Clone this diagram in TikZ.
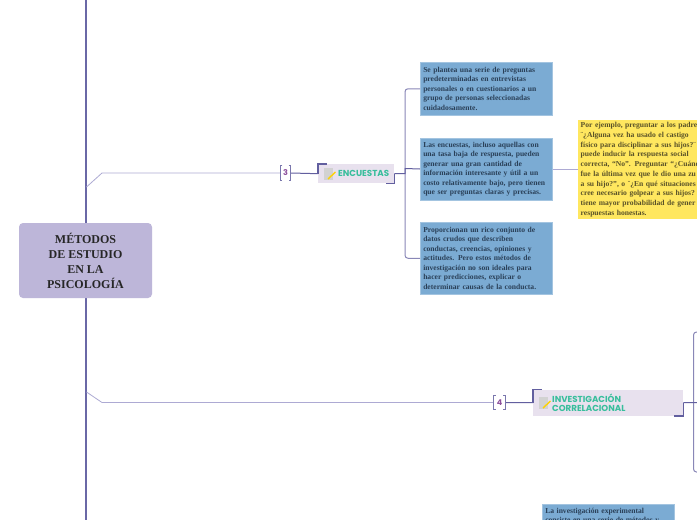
\documentclass[tikz,border=0pt]{standalone}
\usepackage{fontspec}
\setmainfont{Liberation Serif}
\newfontfamily\labelfont{Poppins}
\definecolor{spinec}{HTML}{6A68A6}
\definecolor{lightl}{HTML}{ADAAD3}
\definecolor{darkl}{HTML}{625F9F}
\definecolor{titlef}{HTML}{BDB6D9}
\definecolor{blueb}{HTML}{7BABD3}
\definecolor{bluet}{HTML}{2A4058}
\definecolor{yellowb}{HTML}{FFE75F}
\definecolor{yellowt}{HTML}{5A5228}
\definecolor{topicf}{HTML}{E8E1EE}
\definecolor{topict}{HTML}{38BE9C}
\definecolor{badget}{HTML}{8C4F9C}
\tikzset{
  titlebox/.style={fill=titlef,rounded corners=4,minimum width=133,minimum height=75,align=center,inner sep=0,text=black!85,font=\fontsize{12}{15}\selectfont\bfseries},
  bluebox/.style={fill=blueb,draw=blueb!70!white,line width=.5,anchor=north west,text width=126,inner xsep=3,inner ysep=0,align=left,text=bluet,font=\fontsize{7.6}{9.5}\selectfont\bfseries},
  yellowbox/.style={fill=yellowb,anchor=north west,text width=140,minimum height=99,inner xsep=2.5,inner ysep=0,align=left,text=yellowt,font=\fontsize{7.6}{9.7}\selectfont\bfseries},
  topicbox/.style={fill=topicf,anchor=north west,inner sep=0,align=left,text=topict,font=\labelfont\fontsize{8.7}{9.2}\selectfont\bfseries},
  badge/.style={minimum width=10,minimum height=15,inner sep=0,text=badget,font=\labelfont\fontsize{8}{8}\selectfont\bfseries},
  thin line/.style={draw=lightl,line width=.8},
  dark line/.style={draw=darkl,line width=1},
  trunk/.style={draw=darkl!75!white,line width=1,rounded corners=3},
  corner/.style={draw=darkl,line width=1.6},
  brk/.style={draw=darkl!85!white,line width=1},
}
\newcommand{\noteicon}[2]{%
  \fill[gray!35] (#1,#2) rectangle ++(9,11.5);
  \draw[yellow!70!orange,line width=1.4] (#1+4,#2+11) -- ++(7.5,-7);
}
\begin{document}
\begin{tikzpicture}[x=1pt,y=-1pt]
\useasboundingbox (0,0) rectangle (697,520);
\clip (0,0) rectangle (697,520);
\fill[white] (0,0) rectangle (697,520);

\coordinate (spinetop) at (86,0);
\coordinate (spinebot) at (86,520);
\coordinate (fork3) at (86.5,187);
\coordinate (bend3) at (102,173);
\coordinate (fork4) at (86.5,392);
\coordinate (bend4) at (102,402.5);
\draw[draw=spinec,line width=2.8] (spinetop) -- (spinebot);

\node[titlebox] (title) at (85.5,260.5) {MÉTODOS\\DE ESTUDIO\\EN LA\\PSICOLOGÍA};

% ENCUESTAS
\node[badge] (b3) at (285.5,173) {3};
\node[topicbox,text width=76,minimum height=19] (enc) at (318,164) {\hspace*{20pt}ENCUESTAS};
\noteicon{324}{168}
\draw[thin line] (fork3) -- (bend3) -- (b3.west);
\draw[dark line] (b3.east) -- (enc.west);
\draw[brk] ([xshift=2]b3.north west) -- (b3.north west) -- (b3.south west) -- ([xshift=2]b3.south west);
\draw[brk] ([xshift=-2]b3.north east) -- (b3.north east) -- (b3.south east) -- ([xshift=-2]b3.south east);
\draw[corner] (enc.west) -- (enc.north west) -- ([xshift=9]enc.north west);
\draw[corner] (enc.east) -- (enc.south east) -- ([xshift=-8]enc.south east);

\node[bluebox,minimum height=53] (s1) at (420,62) {Se plantea una serie de preguntas\\predeterminadas en entrevistas\\personales o en cuestionarios a un\\grupo de personas seleccionadas\\cuidadosamente.};
\node[bluebox,minimum height=61.5] (s2) at (420,138) {Las encuestas, incluso aquellas con\\una tasa baja de respuesta, pueden\\generar una gran cantidad de\\información interesante y útil a un\\costo relativamente bajo, pero tienen\\que ser preguntas claras y precisas.};
\node[bluebox,minimum height=72] (s3) at (420,222) {Proporcionan un rico conjunto de\\datos crudos que describen\\conductas, creencias, opiniones y\\actitudes. Pero estos métodos de\\investigación no son ideales para\\hacer predicciones, explicar o\\determinar causas de la conducta.};
\node[yellowbox] (ej) at (578,120) {Por ejemplo, preguntar a los padres\\¨¿Alguna vez ha usado el castigo\\físico para disciplinar a sus hijos?¨\\puede inducir la respuesta social\\correcta, “No”. Preguntar “¿Cuánd\\fue la última vez que le dio una zu\\a su hijo?”, o ¨¿En qué situaciones\\cree necesario golpear a sus hijos?\\tiene mayor probabilidad de gener\\respuestas honestas.};

\coordinate (hub3) at (405,168.5);
\draw[trunk] (s1.west) -| (hub3) |- (s3.west);
\draw[dark line] (enc.east) -| (hub3) -- (s2.west);
\draw[thin line] (s2.east) -- (s2.east -| ej.west);

% INVESTIGACION CORRELACIONAL
\node[badge,minimum width=11,minimum height=14] (b4) at (499.5,402.5) {4};
\node[topicbox,text width=150,minimum height=26] (cor) at (533,389.5) {\hspace*{19pt}\parbox[c]{125pt}{\raggedright INVESTIGACIÓN\\CORRELACIONAL}};
\noteicon{539}{397}
\draw[thin line] (fork4) -- (bend4) -- (b4.west);
\draw[dark line] (b4.east) -- (cor.west);
\draw[brk] ([xshift=2]b4.north west) -- (b4.north west) -- (b4.south west) -- ([xshift=2]b4.south west);
\draw[brk] ([xshift=-2]b4.north east) -- (b4.north east) -- (b4.south east) -- ([xshift=-2]b4.south east);
\draw[corner] (cor.west) -- (cor.north west) -- ([xshift=9]cor.north west);
\draw[corner] (cor.east) -- (cor.south east) -- ([xshift=-9]cor.south east);

\coordinate (hub4) at (693.5,402.5);
\coordinate (t4) at (699,332);
\coordinate (e4) at (699,472);
\coordinate (o4) at (699,402.5);
\draw[trunk] (t4) -| (hub4) |- (e4);
\draw[dark line] (cor.east) -- (o4);

% bottom box
\node[bluebox,inner ysep=3.5] (exp) at (542,504) {La investigación experimental\\consiste en una serie de métodos y};
\end{tikzpicture}
\end{document}
